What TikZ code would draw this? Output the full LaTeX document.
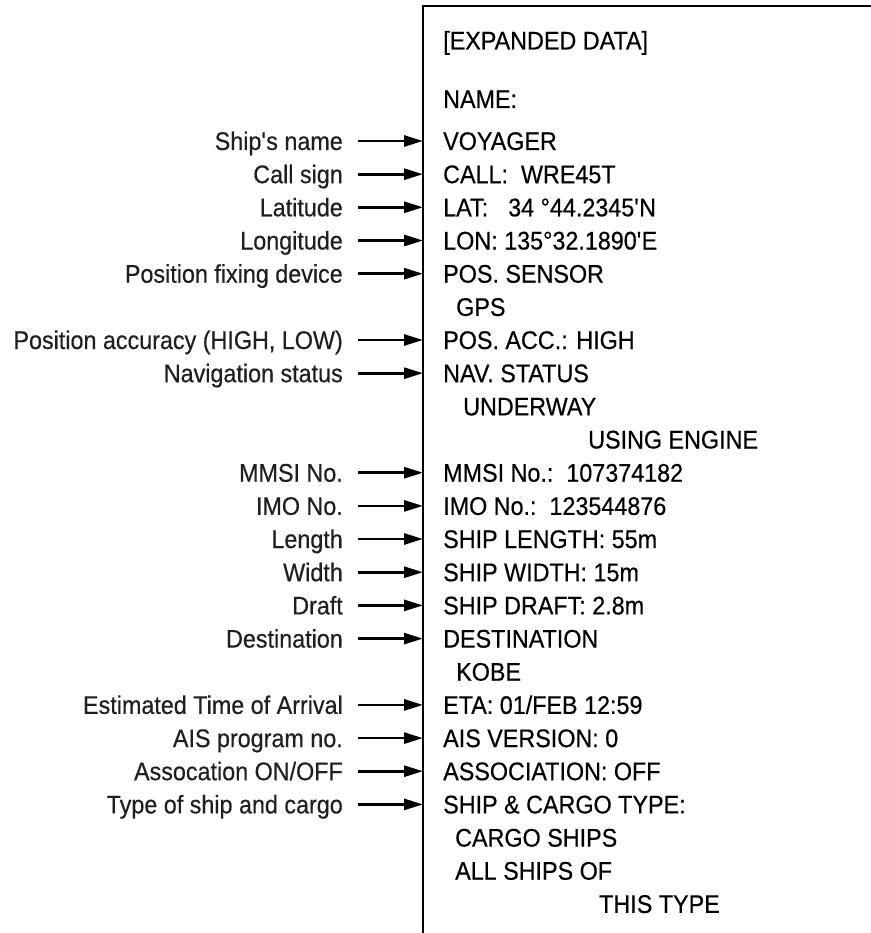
\documentclass[tikz,border=0pt]{standalone}
\usepackage{fontspec}
\setmainfont{Liberation Sans}[FakeStretch=0.915, FakeBold=0.4]
\usetikzlibrary{arrows.meta}
\begin{document}
\begin{tikzpicture}[x=1pt,y=-1pt,
  txt/.style={inner sep=0pt, text height=18pt, text depth=0pt, font=\fontsize{25.5}{30}\selectfont},
  rt/.style={txt, anchor=west},
  lt/.style={txt, anchor=east, text=black!88},
  frameline/.style={line width=2.8pt, line join=miter},
  arr/.style={line width=2.7pt, -{Triangle[length=19pt,width=11pt]}}]
\useasboundingbox (0,0) rectangle (870,933);
\draw[frameline] (423,935) -- (423,6) -- (872,6);
% right column
\node[rt] (title) at (443,40.5) {[EXPANDED DATA]};
\node[rt] (name) at (443,99) {NAME:};
\node[rt] (r1) at (443,141) {VOYAGER};
\node[rt] (r2) at (443,174.2) {CALL:\ \ WRE45T};
\node[rt] (r3) at (443,207.3) {\makebox[65pt][l]{LAT:}34 °44.2345\textquotesingle N};
\node[rt] (r4) at (443,240.5) {\makebox[61pt][l]{LON:}135°32.1890\textquotesingle E};
\node[rt] (r5) at (443,273.7) {POS. SENSOR};
\node[rt] (r6) at (456,306.9) {GPS};
\node[rt] (r7) at (443,340.0) {POS. ACC.: HIGH};
\node[rt] (r8) at (443,373.2) {NAV. STATUS};
\node[rt] (r9) at (463,406.4) {UNDERWAY};
\node[rt] (r10) at (588,439.5) {USING ENGINE};
\node[rt] (r11) at (443,472.7) {MMSI No.:\ \ 107374182};
\node[rt] (r12) at (443,505.9) {IMO No.:\ \ 123544876};
\node[rt] (r13) at (443,539.0) {SHIP LENGTH: 55m};
\node[rt] (r14) at (443,572.2) {SHIP WIDTH: 15m};
\node[rt] (r15) at (443,605.4) {SHIP DRAFT: 2.8m};
\node[rt] (r16) at (443,638.6) {DESTINATION};
\node[rt] (r17) at (456,671.7) {KOBE};
\node[rt] (r18) at (443,704.9) {ETA: 01/FEB 12:59};
\node[rt] (r19) at (443,738.1) {AIS VERSION: 0};
\node[rt] (r20) at (443,771.2) {ASSOCIATION: OFF};
\node[rt] (r21) at (443,804.4) {SHIP \& CARGO TYPE:};
\node[rt] (r22) at (455,837.6) {CARGO SHIPS};
\node[rt] (r23) at (455,870.7) {ALL SHIPS OF};
\node[rt] (r24) at (599,903.9) {THIS TYPE};
% left labels
\node[lt] (l1) at (343,141) {Ship\textquotesingle s name};
\node[lt] (l2) at (343,174.2) {Call sign};
\node[lt] (l3) at (343,207.3) {Latitude};
\node[lt] (l4) at (343,240.5) {Longitude};
\node[lt] (l5) at (343,273.7) {Position fixing device};
\node[lt] (l7) at (343,340.0) {Position accuracy (HIGH, LOW)};
\node[lt] (l8) at (343,373.2) {Navigation status};
\node[lt] (l11) at (343,472.7) {MMSI No.};
\node[lt] (l12) at (343,505.9) {IMO No.};
\node[lt] (l13) at (343,539.0) {Length};
\node[lt] (l14) at (343,572.2) {Width};
\node[lt] (l15) at (343,605.4) {Draft};
\node[lt] (l16) at (343,638.6) {Destination};
\node[lt] (l18) at (343,704.9) {Estimated Time of Arrival};
\node[lt] (l19) at (343,738.1) {AIS program no.};
\node[lt] (l20) at (343,771.2) {Assocation ON/OFF};
\node[lt] (l21) at (343,804.4) {Type of ship and cargo};
% arrows
\foreach \i in {1,2,3,4,5,7,8,11,12,13,14,15,16,18,19,20,21}
  \draw[arr] ([xshift=15pt]l\i.east) -- ([xshift=-20pt]l\i.east -| title.west);
\end{tikzpicture}
\end{document}
